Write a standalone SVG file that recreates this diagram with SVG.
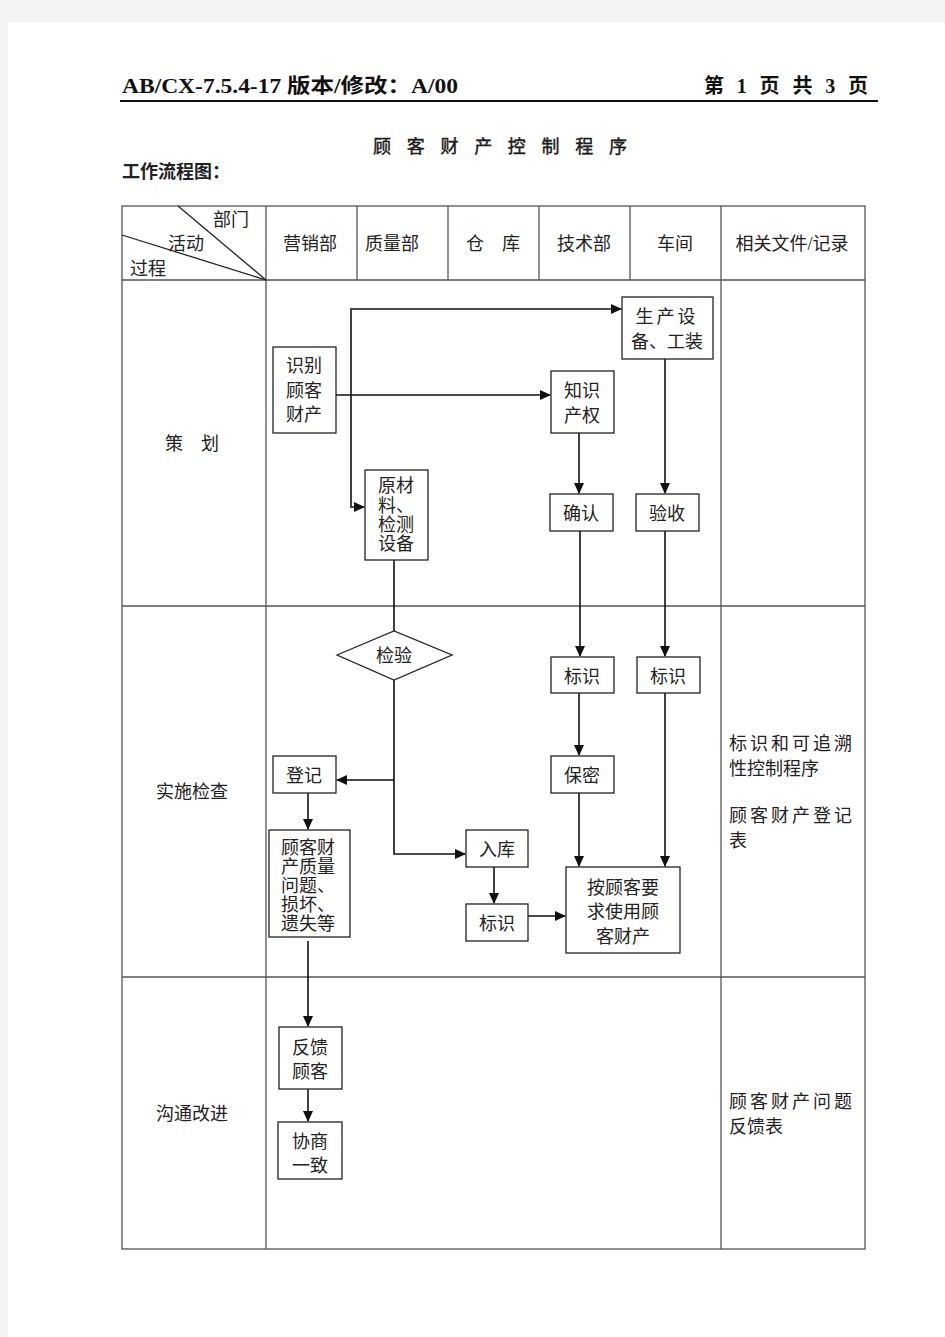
<svg xmlns="http://www.w3.org/2000/svg" width="945" height="1337" viewBox="0 0 945 1337">
<style>
.t{font-family:"Liberation Serif","Noto Sans CJK SC",serif;font-size:18px;fill:#222;}
.c{text-anchor:middle;}
.box{fill:#fff;stroke:#222;stroke-width:1.3;}
.grid{fill:none;stroke:#555;stroke-width:1.3;}
.ln{fill:none;stroke:#111;stroke-width:1.6;}
</style>
<defs>
<marker id="ah" markerWidth="11" markerHeight="10" refX="10" refY="5" orient="auto" markerUnits="userSpaceOnUse">
<path d="M0,0 L11,5 L0,10 Z" fill="#111"/>
</marker>
</defs>
<rect x="0" y="0" width="945" height="1337" fill="#f3f3f3"/>
<rect x="8" y="22" width="937" height="1315" fill="#fff"/>

<g id="page-header">
<text x="122" y="93" font-family="Liberation Serif,Noto Sans CJK SC,serif" font-size="20" font-weight="bold" fill="#111" textLength="336" lengthAdjust="spacingAndGlyphs">AB/CX-7.5.4-17 版本/修改：A/00</text>
<text x="704" y="93" font-family="Liberation Serif,Noto Sans CJK SC,serif" font-size="20" font-weight="bold" fill="#111" textLength="164" lengthAdjust="spacing">第 1 页 共 3 页</text>
<line x1="120" y1="101" x2="878" y2="101" stroke="#111" stroke-width="2"/>
<text x="373" y="153" class="t" font-size="22" fill="#111" stroke="#111" stroke-width="0.4" textLength="254" lengthAdjust="spacing">顾 客 财 产 控 制 程 序</text>
<text x="122" y="178" class="t" font-size="18" font-weight="bold" fill="#111">工作流程图：</text>
</g>

<g id="table">
<rect x="122" y="206" width="743" height="1043" class="grid"/>
<line x1="122" y1="280" x2="865" y2="280" class="grid"/>
<line x1="122" y1="606" x2="865" y2="606" class="grid"/>
<line x1="122" y1="977" x2="865" y2="977" class="grid"/>
<line x1="266" y1="206" x2="266" y2="1249" class="grid"/>
<line x1="357" y1="206" x2="357" y2="280" class="grid"/>
<line x1="448" y1="206" x2="448" y2="280" class="grid"/>
<line x1="539" y1="206" x2="539" y2="280" class="grid"/>
<line x1="630" y1="206" x2="630" y2="280" class="grid"/>
<line x1="721" y1="206" x2="721" y2="1249" class="grid"/>
<line x1="178" y1="206" x2="266" y2="280" stroke="#222" stroke-width="1.3"/>
<line x1="122" y1="235" x2="266" y2="280" stroke="#222" stroke-width="1.3"/>
<text x="213" y="226" class="t">部门</text>
<text x="168" y="250" class="t">活动</text>
<text x="130" y="275" class="t">过程</text>
<text x="310" y="250" class="t c">营销部</text>
<text x="392" y="250" class="t c">质量部</text>
<text x="493" y="250" class="t c">仓　库</text>
<text x="584" y="250" class="t c">技术部</text>
<text x="675" y="250" class="t c">车间</text>
<text x="792" y="250" class="t c">相关文件/记录</text>
<text x="192" y="450" class="t c">策　划</text>
<text x="192" y="798" class="t c">实施检查</text>
<text x="192" y="1120" class="t c">沟通改进</text>
<text x="729" y="750" class="t" letter-spacing="3">标识和可追溯</text>
<text x="729" y="775" class="t">性控制程序</text>
<text x="729" y="822" class="t" letter-spacing="3">顾客财产登记</text>
<text x="729" y="847" class="t">表</text>
<text x="729" y="1108" class="t" letter-spacing="3">顾客财产问题</text>
<text x="729" y="1133" class="t">反馈表</text>
</g>

<g id="connectors">
<line x1="336" y1="395" x2="550" y2="395" class="ln" marker-end="url(#ah)"/>
<polyline points="351,395 351,309 621,309" class="ln" marker-end="url(#ah)"/>
<polyline points="351,395 351,507 364,507" class="ln" marker-end="url(#ah)"/>
<line x1="579" y1="433" x2="579" y2="493" class="ln" marker-end="url(#ah)"/>
<line x1="665" y1="359" x2="665" y2="493" class="ln" marker-end="url(#ah)"/>
<line x1="580" y1="531" x2="580" y2="656" class="ln" marker-end="url(#ah)"/>
<line x1="665" y1="531" x2="665" y2="656" class="ln" marker-end="url(#ah)"/>
<line x1="394" y1="560" x2="394" y2="631" class="ln"/>
<polyline points="394,680 394,854 465,854" class="ln" marker-end="url(#ah)"/>
<line x1="394" y1="780" x2="337" y2="780" class="ln" marker-end="url(#ah)"/>
<line x1="308" y1="793" x2="308" y2="829" class="ln" marker-end="url(#ah)"/>
<line x1="579" y1="693" x2="579" y2="755" class="ln" marker-end="url(#ah)"/>
<line x1="579" y1="793" x2="579" y2="866" class="ln" marker-end="url(#ah)"/>
<line x1="665" y1="693" x2="665" y2="866" class="ln" marker-end="url(#ah)"/>
<line x1="494" y1="867" x2="494" y2="903" class="ln" marker-end="url(#ah)"/>
<line x1="528" y1="916" x2="565" y2="916" class="ln" marker-end="url(#ah)"/>
<line x1="308" y1="941" x2="308" y2="1026" class="ln" marker-end="url(#ah)"/>
<line x1="308" y1="1089" x2="308" y2="1121" class="ln" marker-end="url(#ah)"/>
</g>

<g id="n-shibie"><rect x="273" y="347" width="63" height="86" class="box"/>
<text x="304" y="372" class="t c">识别</text><text x="304" y="397" class="t c">顾客</text><text x="304" y="421" class="t c">财产</text></g>
<g id="n-shengchan"><rect x="622" y="297" width="91" height="62" class="box"/>
<text x="667" y="323" class="t c" letter-spacing="3">生产设</text><text x="667" y="348" class="t c">备、工装</text></g>
<g id="n-zhishi"><rect x="551" y="371" width="63" height="62" class="box"/>
<text x="582" y="397" class="t c">知识</text><text x="582" y="422" class="t c">产权</text></g>
<g id="n-yuancailiao"><rect x="365" y="470" width="63" height="90" class="box"/>
<text x="378" y="492" class="t">原材</text><text x="378" y="512" class="t">料、</text><text x="378" y="531" class="t">检测</text><text x="378" y="550" class="t">设备</text></g>
<g id="n-queren"><rect x="550" y="494" width="63" height="37" class="box"/>
<text x="581" y="520" class="t c">确认</text></g>
<g id="n-yanshou"><rect x="636" y="494" width="63" height="37" class="box"/>
<text x="667" y="520" class="t c">验收</text></g>
<g id="n-jianyan"><polygon points="337,655 394,631 452,655 394,680" class="box"/>
<text x="394" y="662" class="t c">检验</text></g>
<g id="n-biaoshi1"><rect x="551" y="657" width="63" height="36" class="box"/>
<text x="582" y="683" class="t c">标识</text></g>
<g id="n-biaoshi2"><rect x="637" y="657" width="63" height="36" class="box"/>
<text x="668" y="683" class="t c">标识</text></g>
<g id="n-dengji"><rect x="273" y="756" width="63" height="37" class="box"/>
<text x="304" y="782" class="t c">登记</text></g>
<g id="n-baomi"><rect x="551" y="756" width="63" height="37" class="box"/>
<text x="582" y="782" class="t c">保密</text></g>
<g id="n-wenti"><rect x="269" y="830" width="81" height="107" class="box"/>
<text x="281" y="854" class="t">顾客财</text><text x="281" y="873" class="t">产质量</text><text x="281" y="892" class="t">问题、</text><text x="281" y="911" class="t">损坏、</text><text x="281" y="930" class="t">遗失等</text></g>
<g id="n-ruku"><rect x="466" y="830" width="62" height="37" class="box"/>
<text x="497" y="856" class="t c">入库</text></g>
<g id="n-biaoshi3"><rect x="466" y="904" width="62" height="37" class="box"/>
<text x="497" y="930" class="t c">标识</text></g>
<g id="n-shiyong"><rect x="566" y="867" width="114" height="86" class="box"/>
<text x="623" y="894" class="t c">按顾客要</text><text x="623" y="918" class="t c">求使用顾</text><text x="623" y="943" class="t c">客财产</text></g>
<g id="n-fankui"><rect x="279" y="1027" width="63" height="62" class="box"/>
<text x="310" y="1054" class="t c">反馈</text><text x="310" y="1078" class="t c">顾客</text></g>
<g id="n-xieshang"><rect x="278" y="1122" width="64" height="57" class="box"/>
<text x="310" y="1148" class="t c">协商</text><text x="310" y="1172" class="t c">一致</text></g>
</svg>
